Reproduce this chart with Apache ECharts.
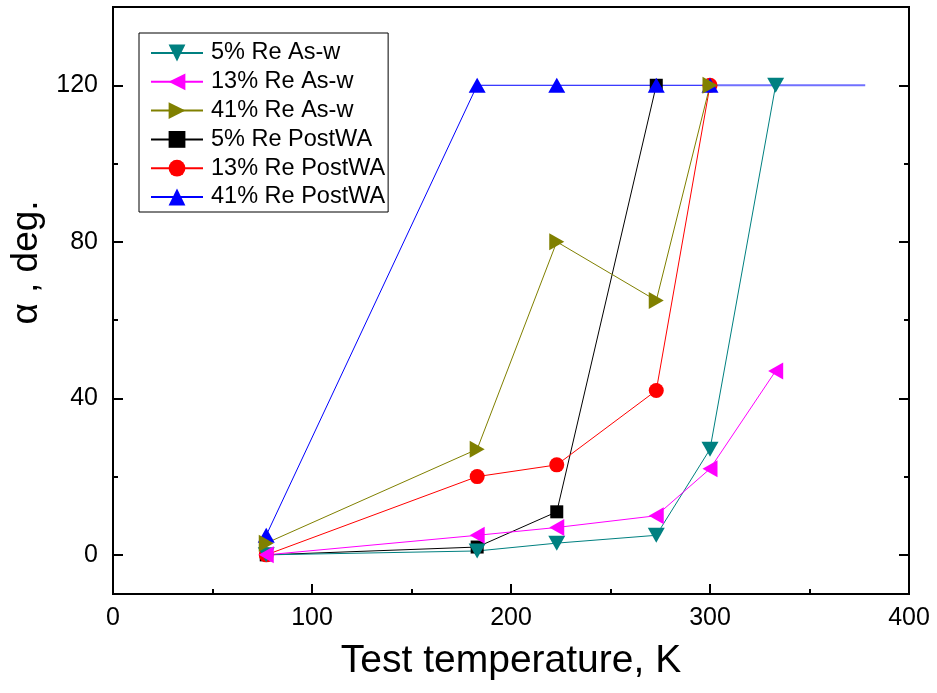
<!DOCTYPE html>
<html>
<head>
<meta charset="utf-8">
<script src="https://cdn.jsdelivr.net/npm/echarts@6/dist/echarts.min.js"></script>
<style>
  html, body { margin: 0; padding: 0; background: #fff; }
  #chart { width: 937px; height: 693px; }
</style>
</head>
<body>
<div id="chart"></div>
<script>
// Bend angle vs test temperature for W-Re wires, as-wrought and post-anneal
const seriesNames = ['5% Re As-w', '13% Re As-w', '41% Re As-w', '5% Re PostWA', '13% Re PostWA', '41% Re PostWA'];

const tempAsW5 = [77, 183, 223, 273, 300, 333];
const alphaAsW5 = [0, 1, 3, 5, 27, 120];

const tempAsW13 = [77, 183, 223, 273, 300, 333];
const alphaAsW13 = [0, 5, 7, 10, 22, 47];

const tempAsW41 = [77, 183, 223, 273, 300];
const alphaAsW41 = [3, 27, 80, 65, 120];

const tempPost5 = [77, 183, 223, 273];
const alphaPost5 = [0, 2, 11, 120];

const tempPost13 = [77, 183, 223, 273, 300];
const alphaPost13 = [0, 20, 23, 42, 120];

const tempPost41 = [77, 183, 223, 273, 300];
const alphaPost41 = [5, 120, 120, 120, 120];

// plateau continuation of the 41% PostWA curve
const tempPost41Tail = [300, 378];
const alphaPost41Tail = [120, 120];

const yMajorTicks = [0, 40, 80, 120];
const yMinorTicks = [20, 60, 100];

function pairs(xs, ys) { return xs.map((x, i) => [x, ys[i]]); }

const FONT = 'Liberation Sans';
const TRI = [17, 15];

function lineSeries(name, xs, ys, color, symbol, size, rotate) {
  return {
    name: name,
    type: 'line',
    data: pairs(xs, ys),
    symbol: symbol,
    symbolSize: size,
    symbolRotate: rotate || 0,
    showSymbol: true,
    animation: false,
    lineStyle: { color: color, width: 1 },
    itemStyle: { color: color, borderWidth: 0 },
    emphasis: { disabled: true }
  };
}

function yAxisDef(pos, ticks, len, labels) {
  return {
    type: 'value',
    position: pos,
    min: -10,
    max: 140,
    axisLine: { show: pos === 'left', onZero: false, lineStyle: { color: '#000', width: 2 } },
    axisTick: { show: true, inside: true, length: len, customValues: ticks,
                lineStyle: { color: '#000', width: 2 } },
    axisLabel: labels ? { show: true, customValues: ticks, margin: 15,
                          fontFamily: FONT, fontSize: 25, color: '#000' } : { show: false },
    splitLine: { show: false }
  };
}

const chart = echarts.init(document.getElementById('chart'), null, { renderer: 'canvas' });
const option = {
  backgroundColor: '#fff',
  animation: false,
  grid: {
    left: 113, right: 28, top: 7, bottom: 99,
    show: true, borderColor: '#000', borderWidth: 2, backgroundColor: 'transparent'
  },
  legend: {
    data: seriesNames,
    orient: 'vertical',
    left: 139,
    top: 33,
    padding: [8, 3, 3, 11],
    itemWidth: 52,
    itemHeight: 21,
    itemGap: 4.8,
    borderColor: '#000',
    borderWidth: 1,
    selectedMode: false,
    textStyle: { fontFamily: FONT, fontSize: 23.5, color: '#000', padding: [0, 0, 0, 3] }
  },
  xAxis: {
    type: 'value',
    min: 0,
    max: 400,
    interval: 100,
    name: 'Test temperature, K',
    nameLocation: 'middle',
    nameGap: 48,
    nameTextStyle: { fontFamily: FONT, fontSize: 39, color: '#000' },
    axisLine: { onZero: false, lineStyle: { color: '#000', width: 2 } },
    axisTick: { inside: true, length: 10, lineStyle: { color: '#000', width: 2 } },
    minorTick: { show: true, splitNumber: 2, length: 5, lineStyle: { color: '#000', width: 2 } },
    axisLabel: { margin: 12, fontFamily: FONT, fontSize: 25, color: '#000' },
    splitLine: { show: false },
    minorSplitLine: { show: false }
  },
  yAxis: [
    Object.assign(yAxisDef('left', yMajorTicks, 10, true), {
      name: 'α , deg.',
      nameLocation: 'middle',
      nameGap: 63,
      nameRotate: 90,
      nameTextStyle: { fontFamily: FONT, fontSize: 37, color: '#000', padding: [0, 0, 0, 76] }
    }),
    yAxisDef('left', yMinorTicks, 5, false),
    yAxisDef('right', yMajorTicks, 10, false),
    yAxisDef('right', yMinorTicks, 5, false)
  ],
  series: [
    lineSeries(seriesNames[3], tempPost5, alphaPost5, '#000000', 'rect', 13),
    lineSeries(seriesNames[4], tempPost13, alphaPost13, '#ff0000', 'circle', 15),
    lineSeries(seriesNames[5], tempPost41, alphaPost41, '#0000ff', 'triangle', TRI),
    Object.assign(lineSeries('41% Re PostWA plateau', tempPost41Tail, alphaPost41Tail, '#7070ff', 'none', 0),
                  { lineStyle: { color: '#7070ff', width: 2 }, z: 1 }),
    lineSeries(seriesNames[0], tempAsW5, alphaAsW5, '#008080', 'triangle', TRI, 180),
    lineSeries(seriesNames[1], tempAsW13, alphaAsW13, '#ff00ff', 'triangle', TRI, 90),
    lineSeries(seriesNames[2], tempAsW41, alphaAsW41, '#808000', 'triangle', TRI, -90)
  ]
};
chart.setOption(option);
</script>
</body>
</html>
